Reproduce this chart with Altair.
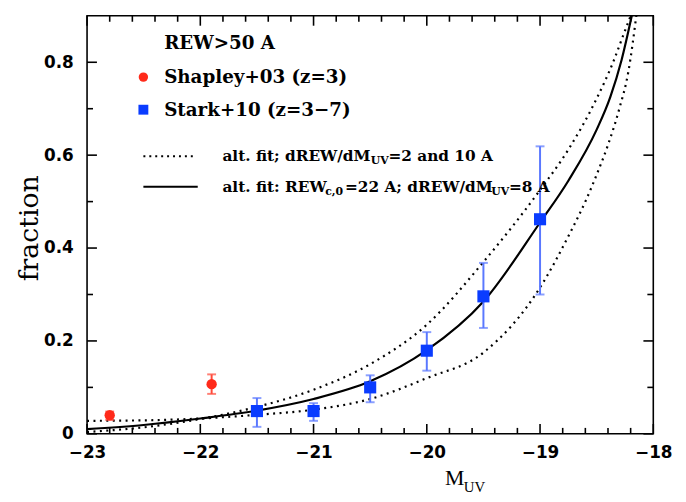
import altair as alt
import pandas as pd

# ---------------- data ----------------
shap_x = [-22.8, -21.9]
shap_y = [0.040, 0.107]
shap_lo = [0.030, 0.086]
shap_hi = [0.048, 0.128]

stark_x = [-21.5, -21.0, -20.5, -20.0, -19.5, -19.0]
stark_y = [0.049, 0.049, 0.100, 0.179, 0.296, 0.462]
stark_lo = [0.015, 0.028, 0.068, 0.136, 0.228, 0.300]
stark_hi = [0.077, 0.066, 0.126, 0.219, 0.368, 0.619]

solid_x = [-23.0, -22.5, -22.0, -21.5, -21.0, -20.5, -20.0, -19.5, -19.0, -18.75, -18.5, -18.38, -18.28, -18.19]
solid_y = [0.010, 0.019, 0.033, 0.050, 0.075, 0.113, 0.180, 0.285, 0.455, 0.545, 0.655, 0.725, 0.805, 0.900]

up_x = [-23.0, -22.5, -22.0, -21.5, -21.0, -20.5, -20.0, -19.5, -19.0, -18.75, -18.5, -18.35, -18.27, -18.2]
up_y = [0.004, 0.014, 0.032, 0.058, 0.095, 0.150, 0.235, 0.370, 0.525, 0.612, 0.722, 0.803, 0.855, 0.900]

lo_x = [-23.0, -22.5, -22.0, -21.5, -21.0, -20.5, -20.0, -19.5, -19.0, -18.73, -18.6, -18.5, -18.4, -18.3, -18.22, -18.15]
lo_y = [0.028, 0.029, 0.033, 0.041, 0.052, 0.075, 0.120, 0.175, 0.315, 0.435, 0.500, 0.558, 0.622, 0.700, 0.780, 0.900]

x_ticks = [-23, -22, -21, -20, -19, -18]
y_ticks = [0, 0.2, 0.4, 0.6, 0.8]
x_minor_ticks = [-22.8, -22.6, -22.4, -22.2, -21.8, -21.6, -21.4, -21.2, -20.8, -20.6, -20.4, -20.2,
                 -19.8, -19.6, -19.4, -19.2, -18.8, -18.6, -18.4, -18.2]
y_minor_ticks = [0.1, 0.3, 0.5, 0.7]

W, H = 573, 423
XD = [-23, -18]
YD = [0, 0.9]
PY = (YD[1] - YD[0]) / H   # data units per pixel on y
PX = (XD[1] - XD[0]) / W   # data units per pixel on x

xs = alt.Scale(domain=XD, nice=False, zero=False)
ys = alt.Scale(domain=YD, nice=False)

SANS = "DejaVu Sans"
SERIF = "DejaVu Serif"

shap = pd.DataFrame({"x": shap_x, "y": shap_y, "lo": shap_lo, "hi": shap_hi})
stark = pd.DataFrame({"x": stark_x, "y": stark_y, "lo": stark_lo, "hi": stark_hi})

curves = pd.concat([
    pd.DataFrame({"x": solid_x, "y": solid_y, "c": "solid"}),
    pd.DataFrame({"x": up_x, "y": up_y, "c": "up"}),
    pd.DataFrame({"x": lo_x, "y": lo_y, "c": "lo"}),
])

xaxis = alt.Axis(values=x_ticks, format="d", tickSize=0, domain=False, grid=False, labelFont=SANS,
                 labelFontSize=17, labelFontWeight="bold", labelColor="black", labelPadding=11,
                 title=None, labelFlush=False)
yaxis = alt.Axis(values=y_ticks, tickSize=0, domain=False, grid=False, labelFont=SANS,
                 labelFontSize=17, labelFontWeight="bold", labelColor="black", labelPadding=14,
                 title=None,
                 labelExpr="datum.value == 0 ? '0' : format(datum.value, '.1f')")

# inward frame ticks drawn as short two-point line segments
seg_rows = []
sid = 0
def add_seg(x0, y0, x1, y1):
    global sid
    seg_rows.append({"tx": x0, "ty": y0, "sid": sid, "o": 0})
    seg_rows.append({"tx": x1, "ty": y1, "sid": sid, "o": 1})
    sid += 1

for vals, L in ((x_ticks, 10), (x_minor_ticks, 6)):
    for v in vals:
        add_seg(v, YD[0], v, YD[0] + L * PY)
        add_seg(v, YD[1], v, YD[1] - L * PY)
for vals, L in ((y_ticks, 10), (y_minor_ticks, 6)):
    for v in vals:
        add_seg(XD[0], v, XD[0] + L * PX, v)
        add_seg(XD[1], v, XD[1] - L * PX, v)

segs = pd.DataFrame(seg_rows)
tick_lines = alt.Chart(segs).mark_line(color="black", strokeWidth=1.6).encode(
    x=alt.X("tx:Q", scale=xs), y=alt.Y("ty:Q", scale=ys), detail="sid:N", order="o:Q")

base_solid = alt.Chart(curves[curves.c == "solid"]).mark_line(
    color="black", strokeWidth=2.2, clip=True, interpolate="monotone"
).encode(x=alt.X("x:Q", scale=xs, axis=xaxis), y=alt.Y("y:Q", scale=ys, axis=yaxis))

dotted = alt.Chart(curves[curves.c != "solid"]).mark_line(
    color="black", strokeWidth=2.2, strokeDash=[2, 4.5], clip=True, interpolate="monotone"
).encode(x=alt.X("x:Q", scale=xs), y=alt.Y("y:Q", scale=ys), detail="c:N")

def errbars(df, col):
    r = alt.Chart(df).mark_rule(color=col, strokeWidth=2).encode(
        x=alt.X("x:Q", scale=xs), y=alt.Y("lo:Q", scale=ys), y2="hi:Q")
    t1 = alt.Chart(df).mark_tick(color=col, thickness=2, size=9, orient="horizontal").encode(
        x=alt.X("x:Q", scale=xs), y=alt.Y("lo:Q", scale=ys))
    t2 = alt.Chart(df).mark_tick(color=col, thickness=2, size=9, orient="horizontal").encode(
        x=alt.X("x:Q", scale=xs), y=alt.Y("hi:Q", scale=ys))
    return r + t1 + t2

RED = "#ff2a1a"
BLUE = "#0a3cff"
red_err = errbars(shap, "#ff4a3a")
blue_err = errbars(stark, "#5a78ff")

red_pts = alt.Chart(shap).mark_point(filled=True, shape="circle", size=110, color=RED, opacity=1).encode(
    x=alt.X("x:Q", scale=xs), y=alt.Y("y:Q", scale=ys))
blue_pts = alt.Chart(stark).mark_point(filled=True, shape="square", size=150, color=BLUE, opacity=1).encode(
    x=alt.X("x:Q", scale=xs), y=alt.Y("y:Q", scale=ys))

# legend / annotations
def txt(s, x, y, size, weight="bold", font=SERIF, align="left", angle=0):
    return alt.Chart(pd.DataFrame({"t": [s]})).mark_text(
        align=align, baseline="middle", font=font, fontSize=size, fontWeight=weight, color="black",
        angle=angle
    ).encode(text="t:N", x=alt.value(x), y=alt.value(y))

FS = 15.5
SUB = 11
leg = (
    txt("REW>50 A", 78, 28, 18.5)
    + txt("Shapley+03 (z=3)", 78, 62, 18.5)
    + txt("Stark+10 (z=3\u22127)", 78, 95, 18.5)
    + alt.Chart(pd.DataFrame({"a": [0]})).mark_point(filled=True, shape="circle", size=90, color=RED, opacity=1)
      .encode(x=alt.value(57), y=alt.value(62))
    + alt.Chart(pd.DataFrame({"a": [1]})).mark_point(filled=True, shape="square", size=100, color=BLUE, opacity=1)
      .encode(x=alt.value(57), y=alt.value(95))
    + alt.Chart(pd.DataFrame({"a": [2]})).mark_rule(color="black", strokeWidth=2, strokeDash=[2, 4])
      .encode(x=alt.value(57), x2=alt.value(110), y=alt.value(142))
    + alt.Chart(pd.DataFrame({"a": [3]})).mark_rule(color="black", strokeWidth=2.2)
      .encode(x=alt.value(57), x2=alt.value(112), y=alt.value(173))
    + txt("alt. fit; dREW/dM", 137, 142, FS)
    + txt("UV", 287, 147, SUB)
    + txt("=2 and 10 A", 305, 142, FS)
    + txt("alt. fit: REW", 137, 173, FS)
    + txt("c,0", 241, 178, SUB)
    + txt("=22 A; dREW/dM", 261, 173, FS)
    + txt("UV ", 409, 178, SUB)
    + txt("=8 A", 427, 173, FS)
)

titles = (
    txt("M", 372, H + 45, 22, "normal", "Liberation Serif", "center")
    + txt("UV  ", 392, H + 54, 15, "normal", "Liberation Serif", "center")
    + txt("fraction", -58, 215, 27, "normal", SERIF, "center", 270)
)

chart = alt.layer(
    base_solid, dotted, tick_lines, red_err, blue_err, red_pts, blue_pts, leg, titles
).properties(
    width=W, height=H,
    autosize=alt.AutoSizeParams(type="none"),
    padding={"left": 80, "top": 5, "right": 25, "bottom": 60},
).configure_view(stroke="black", strokeWidth=1.6)

chart.save("out.html", embed_options={"renderer": "svg", "actions": False})
